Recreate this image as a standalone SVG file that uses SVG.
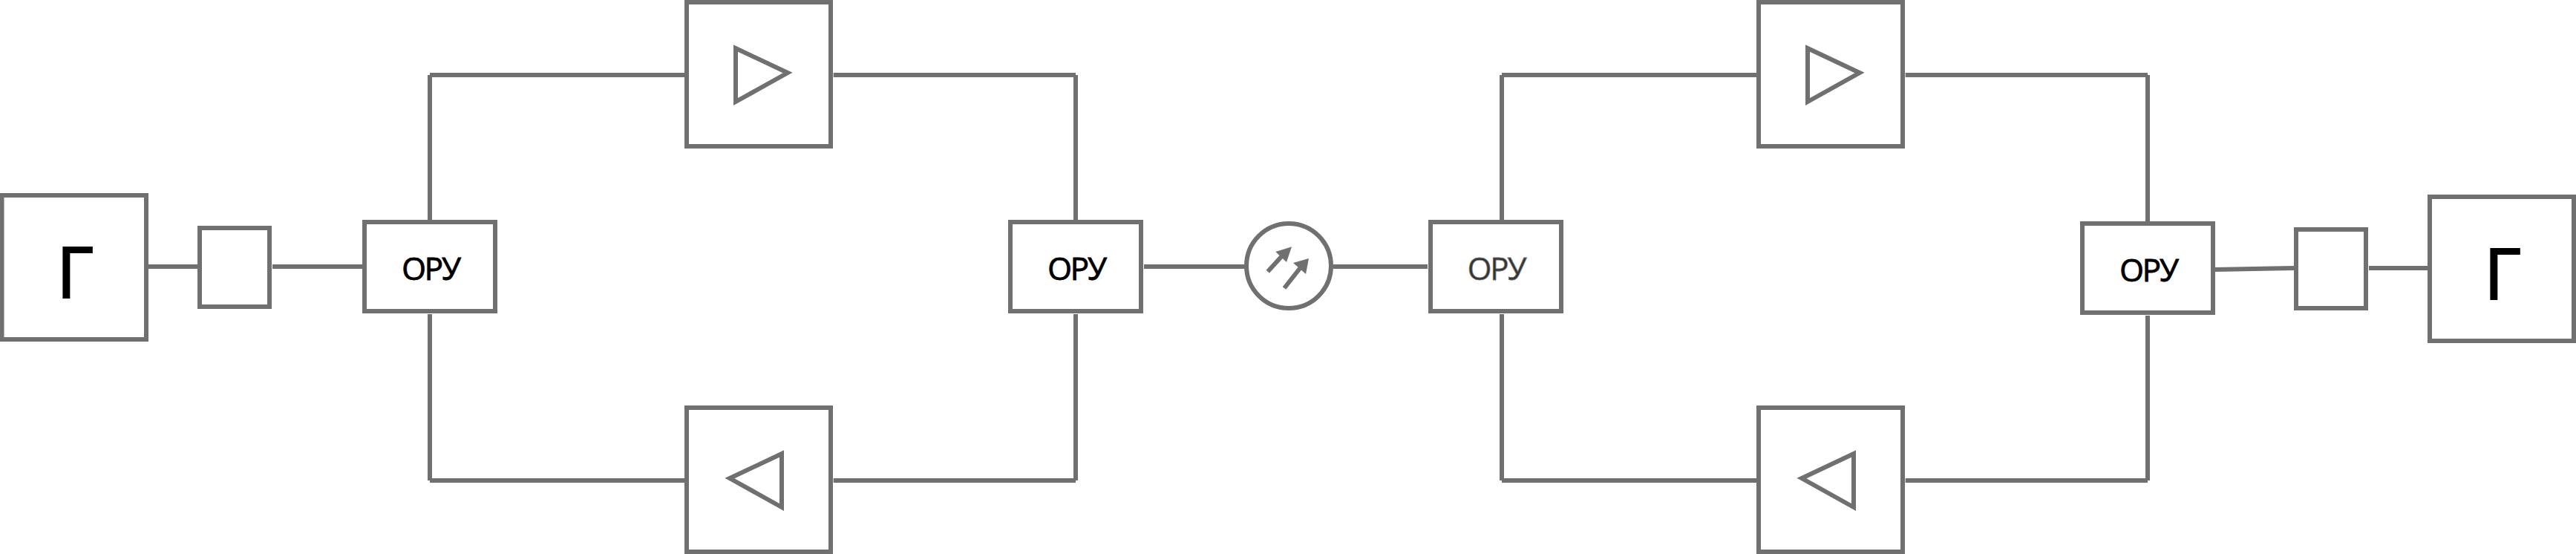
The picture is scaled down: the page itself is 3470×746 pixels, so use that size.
<svg xmlns="http://www.w3.org/2000/svg" width="3470" height="746" viewBox="0 0 3470 746">
<style>
.s{fill:#fff;stroke:#707070;stroke-width:6}
.c{fill:none;stroke:#707070;stroke-width:6}
.h{fill:#707070}
.t{font-family:"Open Sans",sans-serif;font-size:42px;letter-spacing:-2.2px;text-anchor:middle;fill:#000;stroke:#000;stroke-width:.9}
.g{font-family:"Open Sans",sans-serif;font-size:96px;text-anchor:start;fill:#000;stroke:#000;stroke-width:2}
.o{fill:#333;stroke:#707070;stroke-width:.8}
</style>
<rect width="3470" height="746" fill="#fff"/>
<g id="connectors" class="c">
<path d="M200 359H266M367 359H488"/>
<path d="M579 296V101M579 101H922M1122.7 101H1449M1449 101V296"/>
<path d="M579 423V647M579 647H922M1122.7 647H1449M1449 647V423"/>
<path d="M1541 359H1677M1796 359H1923"/>
<path d="M2023 296V101M2023 101H2366M2566.7 101H2893M2893 101V298"/>
<path d="M2023 423V647M2023 647H2366M2566.7 647H2893M2893 647V425"/>
<path d="M2984 363L3090 361M3191 361H3270"/>
</g>
<g id="gen-left"><rect class="s" x="2.5" y="263" width="194.5" height="194"/><text class="g" x="76" y="401">Г</text></g>
<g id="box-left"><rect class="s" x="269" y="307" width="94" height="106"/></g>
<g id="ory-1"><rect class="s" x="491" y="299" width="176" height="120"/><text class="t" x="580" y="376.5">ОРУ</text></g>
<g id="amp-top-1"><rect class="s" x="925" y="3" width="194" height="194"/><polygon class="s" points="991,65 1061,98 991,137"/></g>
<g id="amp-bottom-1"><rect class="s" x="925" y="549" width="194" height="194"/><polygon class="s" points="1053,611 983,644 1053,683"/></g>
<g id="ory-2"><rect class="s" x="1361" y="299" width="176" height="120"/><text class="t" x="1450" y="376.5">ОРУ</text></g>
<g id="line-symbol"><circle class="s" cx="1736" cy="358" r="57"/>
<path class="c" d="M1707.7 365.7L1733 338M1730 388L1756 355"/>
<polygon class="h" points="1740,332.3 1718.3,339 1733,353"/>
<polygon class="h" points="1763,348 1742,354 1759,369"/></g>
<g id="ory-3"><rect class="s" x="1927" y="299" width="176" height="120"/><text class="t o" x="2015.5" y="376.5">ОРУ</text></g>
<g id="amp-top-2"><rect class="s" x="2369" y="3" width="194" height="194"/><polygon class="s" points="2435,65 2505,98 2435,137"/></g>
<g id="amp-bottom-2"><rect class="s" x="2369" y="549" width="194" height="194"/><polygon class="s" points="2497,611 2427,644 2497,683"/></g>
<g id="ory-4"><rect class="s" x="2805" y="301" width="176" height="120"/><text class="t" x="2894" y="378.5">ОРУ</text></g>
<g id="box-right"><rect class="s" x="3093" y="309" width="94" height="106"/></g>
<g id="gen-right"><rect class="s" x="3273" y="265" width="194" height="194"/><text class="g" x="3346" y="403">Г</text></g>
</svg>
